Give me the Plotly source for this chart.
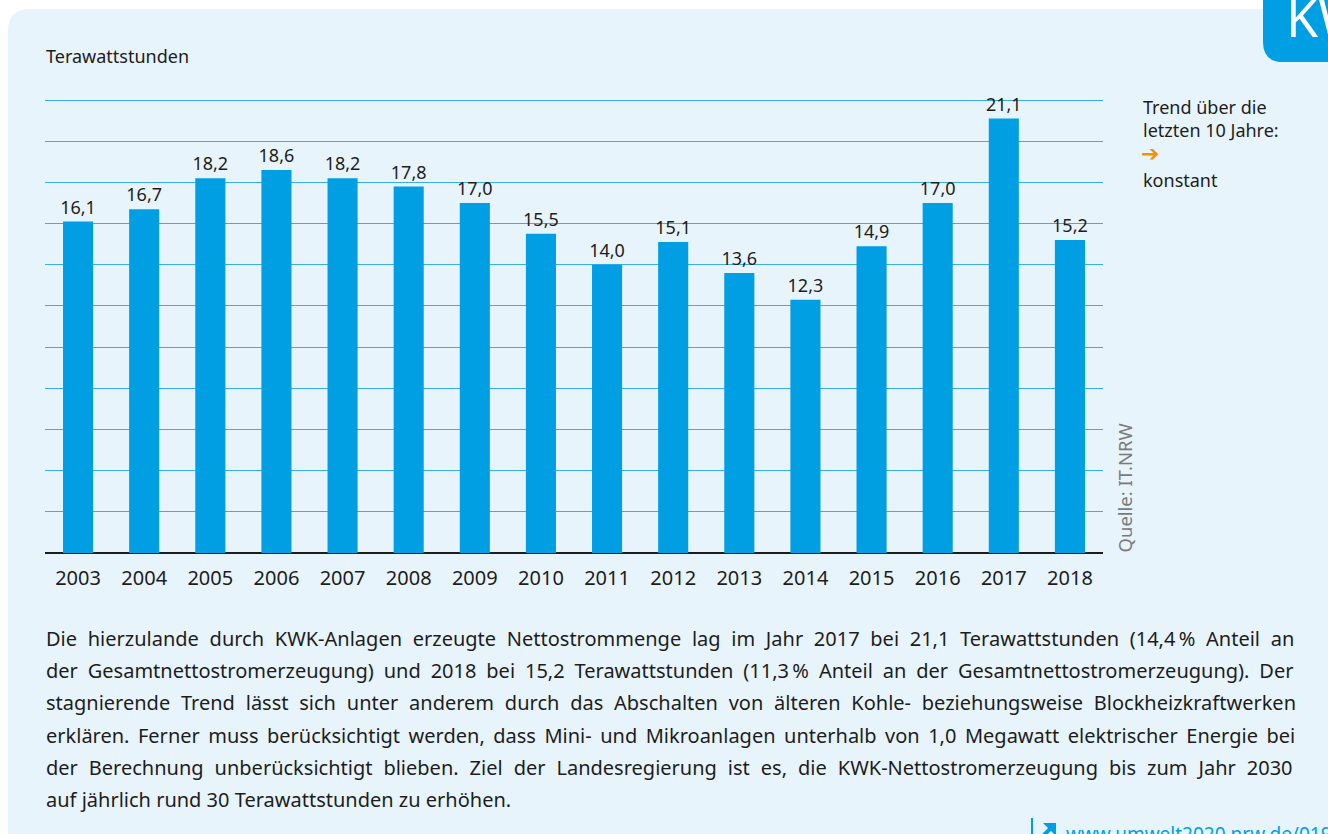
import plotly.graph_objects as go

years = ["2003", "2004", "2005", "2006", "2007", "2008", "2009", "2010",
         "2011", "2012", "2013", "2014", "2015", "2016", "2017", "2018"]
values = [16.1, 16.7, 18.2, 18.6, 18.2, 17.8, 17.0, 15.5,
          14.0, 15.1, 13.6, 12.3, 14.9, 17.0, 21.1, 15.2]

unit_label = "Terawattstunden"
trend_lines = ["Trend über die", "letzten 10 Jahre:", "konstant"]
trend_arrow = "➔"
source = "Quelle: IT.NRW"
paragraph = [
    "Die hierzulande durch KWK-Anlagen erzeugte Nettostrommenge lag im Jahr 2017 bei 21,1 Terawattstunden (14,4\u202f% Anteil an",
    "der Gesamtnettostromerzeugung) und 2018 bei 15,2 Terawattstunden (11,3\u202f% Anteil an der Gesamtnettostromerzeugung). Der",
    "stagnierende Trend lässt sich unter anderem durch das Abschalten von älteren Kohle- beziehungsweise Blockheizkraftwerken",
    "erklären. Ferner muss berücksichtigt werden, dass Mini- und Mikroanlagen unterhalb von 1,0 Megawatt elektrischer Energie bei",
    "der Berechnung unberücksichtigt blieben. Ziel der Landesregierung ist es, die KWK-Nettostromerzeugung bis zum Jahr 2030",
    "auf jährlich rund 30 Terawattstunden zu erhöhen.",
]
link_text = "www.umwelt2020.nrw.de/019"

# styling
W, H = 1328, 834
L, R, T, B = 45, 1103, 99, 553
FONT = "Noto Sans"
BLUE = "#009FE3"
DARK = "#1d1d1b"
para_y = [638, 670, 702, 735, 767, 799]
para_wordspacing = [5.5, 4.7, 5.6, 3.3, 5.8, 0]   # px, to imitate justified text


def px(x):
    return (x - L) / (R - L)


def py(y):
    return (B - y) / (B - T)


fig = go.Figure()
fig.add_trace(go.Bar(
    x=years, y=values,
    marker=dict(color=BLUE, line=dict(width=0)),
    texttemplate="%{y:.1f}", textposition="outside", constraintext="none",
    textfont=dict(family=FONT, size=18, color=DARK),
    cliponaxis=False, hoverinfo="skip",
))

shapes = []
r = 22
panel = (f"M {px(8)},{py(900)} L {px(8)},{py(9 + r)} "
         f"Q {px(8)},{py(9)} {px(8 + r)},{py(9)} "
         f"L {px(1400)},{py(9)} L {px(1400)},{py(900)} Z")
shapes.append(dict(type="path", xref="paper", yref="paper", path=panel,
                   fillcolor="#E8F4FC", line=dict(width=0), layer="below"))
rb = 20
badge = (f"M {px(1263)},{py(-20)} L {px(1263)},{py(62 - rb)} "
         f"Q {px(1263)},{py(62)} {px(1263 + rb)},{py(62)} "
         f"L {px(1400)},{py(62)} L {px(1400)},{py(-20)} Z")
shapes.append(dict(type="path", xref="paper", yref="paper", path=badge,
                   fillcolor=BLUE, line=dict(width=0), layer="above"))
# link marker: vertical bar + arrow icon
shapes.append(dict(type="line", xref="paper", yref="paper",
                   x0=px(1032), x1=px(1032), y0=py(818), y1=py(840),
                   line=dict(color=BLUE, width=2)))
icon_head = (f"M {px(1043)},{py(823)} L {px(1056)},{py(823)} L {px(1056)},{py(836)} Z")
shapes.append(dict(type="path", xref="paper", yref="paper", path=icon_head,
                   fillcolor=BLUE, line=dict(width=0)))
shapes.append(dict(type="line", xref="paper", yref="paper",
                   x0=px(1040), x1=px(1051), y0=py(839), y1=py(828),
                   line=dict(color=BLUE, width=4)))

annotations = []
annotations.append(dict(text=unit_label, x=px(44), y=py(56), xref="paper", yref="paper",
                        xanchor="left", yanchor="middle", showarrow=False,
                        font=dict(family=FONT, size=18, color=DARK)))
annotations.append(dict(text="KW", x=px(1284), y=py(17), xref="paper", yref="paper",
                        xanchor="left", yanchor="middle", showarrow=False,
                        font=dict(family=FONT, size=52, color="white")))
for t, yy in zip(trend_lines, [107, 130, 180]):
    annotations.append(dict(text=t, x=px(1141), y=py(yy), xref="paper", yref="paper",
                            xanchor="left", yanchor="middle", showarrow=False,
                            font=dict(family=FONT, size=18, color=DARK)))
annotations.append(dict(text=f"<b>{trend_arrow}</b>", x=px(1139), y=py(153), xref="paper", yref="paper",
                        xanchor="left", yanchor="middle", showarrow=False,
                        font=dict(family="DejaVu Sans", size=22, color="#F39200")))
annotations.append(dict(text=source, x=px(1124), y=py(555), xref="paper", yref="paper",
                        xanchor="center", yanchor="bottom", textangle=-90, showarrow=False,
                        font=dict(family=FONT, size=18.5, color="#7a7a7a")))
for t, yy, ws in zip(paragraph, para_y, para_wordspacing):
    annotations.append(dict(text=f'<span style="word-spacing:{ws}px">{t}</span>',
                            x=px(44), y=py(yy), xref="paper", yref="paper",
                            xanchor="left", yanchor="middle", showarrow=False,
                            font=dict(family=FONT, size=20, color=DARK)))
annotations.append(dict(text=link_text, x=px(1064), y=py(834), xref="paper", yref="paper",
                        xanchor="left", yanchor="middle", showarrow=False,
                        font=dict(family=FONT, size=19, color=BLUE)))

fig.update_layout(
    width=W, height=H,
    margin=dict(l=L, r=W - R, t=T, b=H - B),
    paper_bgcolor="white", plot_bgcolor="rgba(0,0,0,0)",
    separators=",.",
    bargap=0.545,
    showlegend=False,
    font=dict(family=FONT, color=DARK),
    shapes=shapes, annotations=annotations,
    xaxis=dict(type="category", showgrid=False, showline=False, zeroline=False,
               ticks="outside", ticklen=7, tickcolor="rgba(0,0,0,0)",
               tickfont=dict(family=FONT, size=20, color=DARK), fixedrange=True),
    yaxis=dict(range=[0, 22.05], dtick=2, showgrid=True, gridcolor="#3AAEE6", gridwidth=1,
               zeroline=True, zerolinecolor=DARK, zerolinewidth=1.5,
               showticklabels=False, ticks="", showline=False, fixedrange=True),
)

fig.write_html("out.html", config={"displayModeBar": False},
               post_script="document.body.style.margin='0';")
